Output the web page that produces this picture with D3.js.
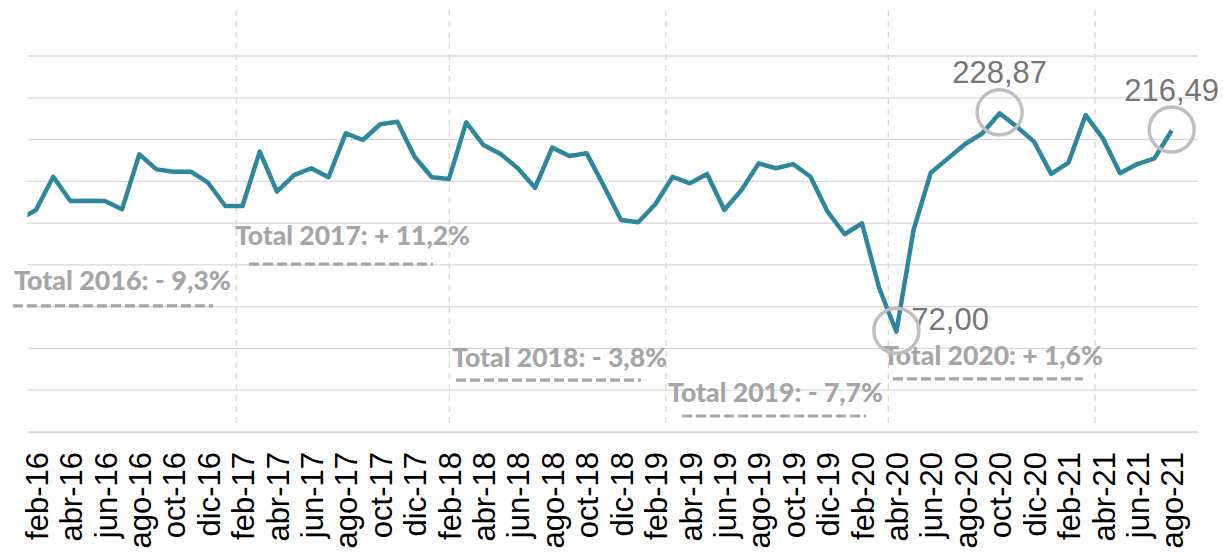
<!DOCTYPE html>
<html>
<head>
<meta charset="utf-8">
<script src="https://cdn.jsdelivr.net/npm/d3@7"></script>
<style>
  body { margin: 0; background: #fff; }
  svg { display: block; }
  .tick text { font-family: "Liberation Sans", Arial, sans-serif; }
</style>
</head>
<body>
<svg id="chart"></svg>
<script>
// categories: ene-16 .. ago-21 (first one only shows as a clipped stub)
const months = [
  "ene-16","feb-16","mar-16","abr-16","may-16","jun-16","jul-16","ago-16","sep-16","oct-16","nov-16","dic-16",
  "ene-17","feb-17","mar-17","abr-17","may-17","jun-17","jul-17","ago-17","sep-17","oct-17","nov-17","dic-17",
  "ene-18","feb-18","mar-18","abr-18","may-18","jun-18","jul-18","ago-18","sep-18","oct-18","nov-18","dic-18",
  "ene-19","feb-19","mar-19","abr-19","may-19","jun-19","jul-19","ago-19","sep-19","oct-19","nov-19","dic-19",
  "ene-20","feb-20","mar-20","abr-20","may-20","jun-20","jul-20","ago-20","sep-20","oct-20","nov-20","dic-20",
  "ene-21","feb-21","mar-21","abr-21","may-21","jun-21","jul-21","ago-21"
];

const values = [
  152.4, 159.4, 183.3, 165.9, 166.1, 165.9, 159.9, 199.4, 188.6, 186.9, 186.9, 179.0,
  162.3, 162.3, 201.3, 172.6, 184.5, 189.4, 182.9, 214.5, 209.7, 221.0, 222.8, 197.7,
  182.9, 181.7, 222.4, 206.1, 199.6, 189.4, 175.4, 204.2, 198.2, 200.1, 176.6, 152.2,
  150.6, 163.7, 183.3, 178.6, 185.3, 159.4, 173.8, 192.9, 189.4, 192.4, 183.5, 158.2,
  142.0, 149.9, 103.4, 72.00, 145.1, 186.2, 196.5, 206.8, 214.5, 228.87, 219.2, 208.5,
  185.3, 193.4, 227.6, 210.9, 185.8, 192.4, 196.5, 216.49
];

// x labels every two months, starting at feb-16
const tickIdx = d3.range(1, months.length, 2);

// highlighted points (index into months) and their labels
const marked = [51, 57, 67];
const markedText = ["72,00", "228,87", "216,49"];

// yearly totals
const totalText = ["Total 2016: - 9,3%", "Total 2017: + 11,2%", "Total 2018: - 3,8%", "Total 2019: - 7,7%", "Total 2020: + 1,6%"];

// year separator positions (month index)
const separators = [12.64, 25.02, 37.61, 50.53, 62.54];

// annotation anchors in data units: text start, baseline value, underline start/end, underline value
const totalPos = [
  {x: -0.28, v: 102.0, x0: -0.34, x1: 11.29, uv: 90.5},
  {x: 12.56, v: 134.3, x0: 13.38, x1: 24.07, uv: 120.6},
  {x: 25.18, v: 46.9,  x0: 25.41, x1: 36.16, uv: 37.3},
  {x: 37.73, v: 21.8,  x0: 38.55, x1: 49.24, uv: 11.5},
  {x: 50.22, v: 48.1,  x0: 50.80, x1: 61.84, uv: 38.1}
];
const totalWidth = [217, 235, 215, 215, 220];

const W = 1226, H = 552;
const margin = {top: 56, right: 28.5, bottom: 120, left: 27.4};
const width = W - margin.left - margin.right;
const height = H - margin.top - margin.bottom;

const svg = d3.select("#chart").attr("width", W).attr("height", H);
const g = svg.append("g").attr("transform", `translate(${margin.left},${margin.top})`);

const x = d3.scaleLinear().domain([0.5, months.length + 0.5]).range([0, width]);
const y = d3.scaleLinear().domain([0, 270]).range([height, 0]);

// gridlines
g.append("g")
  .selectAll("line")
  .data(d3.range(0, 271, 30))
  .join("line")
    .attr("x1", 0).attr("x2", width)
    .attr("y1", d => y(d)).attr("y2", d => y(d))
    .attr("stroke", "#d9d9d9")
    .attr("stroke-width", 1.3);

// year separators
g.append("g")
  .selectAll("line")
  .data(separators)
  .join("line")
    .attr("x1", d => x(d)).attr("x2", d => x(d))
    .attr("y1", y(303)).attr("y2", y(3))
    .attr("stroke", "#ddd8c0")
    .attr("stroke-width", 1.3)
    .attr("stroke-dasharray", "6,5");

// x axis
const xAxis = d3.axisBottom(x)
  .tickValues(tickIdx)
  .tickFormat(i => months[i])
  .tickSize(0);

const xAxisG = g.append("g")
  .attr("transform", `translate(0,${height})`)
  .call(xAxis);
xAxisG.select(".domain").attr("stroke", "#d9d9d9").attr("stroke-width", 1.3);
xAxisG.selectAll("text")
  .attr("transform", "rotate(-90)")
  .attr("text-anchor", "end")
  .attr("x", -20)
  .attr("y", 0)
  .attr("dy", "0.36em")
  .attr("fill", "#000")
  .attr("font-size", 31)
  .style("font-size", "31px");

// line
g.append("clipPath").attr("id", "plotclip")
  .append("rect").attr("x", 0).attr("y", -20).attr("width", width).attr("height", height + 40);

const line = d3.line().x((d, i) => x(i)).y(d => y(d));
g.append("path")
  .datum(values)
  .attr("clip-path", "url(#plotclip)")
  .attr("fill", "none")
  .attr("stroke", "#2f879c")
  .attr("stroke-width", 4.5)
  .attr("stroke-linejoin", "round")
  .attr("d", line);

// yearly total labels
const tg = g.append("g");
totalText.forEach((t, k) => {
  const p = totalPos[k];
  tg.append("text")
    .attr("x", x(p.x))
    .attr("y", y(p.v))
    .attr("textLength", totalWidth[k])
    .attr("lengthAdjust", "spacingAndGlyphs")
    .attr("fill", "#a6a6a6")
    .style("font-family", "Lato, 'Open Sans', sans-serif")
    .style("font-weight", "900")
    .style("font-size", "26px")
    .text(t);
  tg.append("line")
    .attr("x1", x(p.x0)).attr("x2", x(p.x1))
    .attr("y1", y(p.uv)).attr("y2", y(p.uv))
    .attr("stroke", "#a6a6a6")
    .attr("stroke-width", 3.2)
    .attr("stroke-dasharray", "10,4");
});

// value labels and circles
marked.forEach((i, k) => {
  const isMin = k === 0;
  g.append("text")
    .attr("x", isMin ? x(i) + 15 : x(i))
    .attr("y", isMin ? y(values[i]) - 1.5 : y(values[i]) - 30)
    .attr("text-anchor", isMin ? "start" : "middle")
    .attr("fill", "#767676")
    .style("font-family", "'Liberation Sans', Arial, sans-serif")
    .style("font-size", "31px")
    .text(markedText[k]);
});
g.append("g")
  .selectAll("circle")
  .data(marked)
  .join("circle")
    .attr("cx", i => x(i))
    .attr("cy", i => y(values[i]) - 1)
    .attr("r", 22.5)
    .attr("fill", "none")
    .attr("stroke", "#bfbfbf")
    .attr("stroke-width", 3.5);
</script>
</body>
</html>
